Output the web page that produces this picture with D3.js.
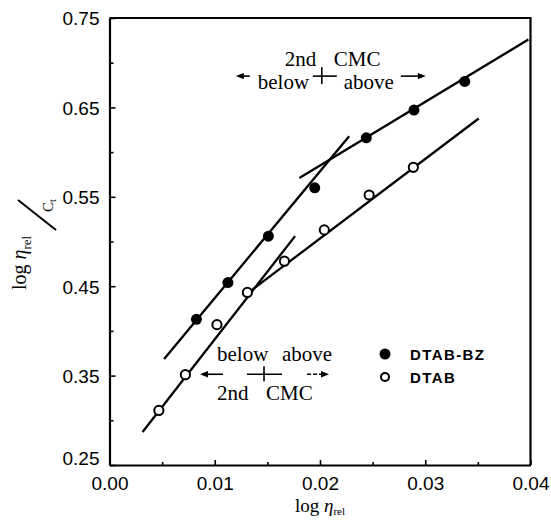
<!DOCTYPE html>
<html>
<head>
<meta charset="utf-8">
<script src="https://cdn.jsdelivr.net/npm/d3@7"></script>
<style>
  body { margin: 0; background: #fff; }
  svg { display: block; }
</style>
</head>
<body>
<div id="chart"><svg width="551" height="520"></svg></div>
<script>
// data
const bzX = [0.00826, 0.01125, 0.01510, 0.01950, 0.02440, 0.02893, 0.03375];
const bzY = [0.413, 0.454, 0.506, 0.560, 0.616, 0.647, 0.679];
const dtabX = [0.00469, 0.00721, 0.01021, 0.01310, 0.01662, 0.02041, 0.02467, 0.02887];
const dtabY = [0.311, 0.351, 0.407, 0.443, 0.478, 0.513, 0.552, 0.583];

// fitted lines, [x1, y1, x2, y2]
const fitLines = [
  [0.00519, 0.3685, 0.02277, 0.6177],
  [0.01804, 0.571, 0.0398, 0.726],
  [0.00314, 0.287, 0.01763, 0.506],
  [0.01283, 0.4395, 0.03508, 0.6376]
];

const xTicks = [0, 0.01, 0.02, 0.03, 0.04];
const xMinor = [0.005, 0.015, 0.025, 0.035];
const yTicks = [0.25, 0.35, 0.45, 0.55, 0.65, 0.75];
const yMinor = [0.30, 0.40, 0.50, 0.60, 0.70];

const legendLabels = ['DTAB-BZ', 'DTAB'];

const svg = d3.select('#chart svg');

const X_SCALE = d3.scaleLinear().domain([0, 0.04]).range([109.5, 530.5]);
const Y_SCALE = d3.scaleLinear().domain([0.25, 0.75]).range([465, 18]);

const SERIF = '"Liberation Serif", "DejaVu Serif", serif';
const SANS = '"Liberation Sans", Arial, sans-serif';

// axes, ticks point inward
const xAxis = svg.append('g').attr('transform', `translate(0,${Y_SCALE(0.25)})`)
  .call(d3.axisBottom(X_SCALE).tickValues(xTicks).tickSizeInner(-5).tickSizeOuter(0)
    .tickPadding(10).tickFormat(d3.format('.2f')));
svg.append('g').attr('transform', `translate(0,${Y_SCALE(0.25)})`)
  .call(d3.axisBottom(X_SCALE).tickValues(xMinor).tickSizeInner(-3).tickSizeOuter(0).tickFormat(''))
  .select('.domain').remove();

const yAxis = svg.append('g').attr('transform', `translate(${X_SCALE(0)},0)`)
  .call(d3.axisLeft(Y_SCALE).tickValues(yTicks).tickSizeInner(-6).tickSizeOuter(0)
    .tickPadding(10).tickFormat(d3.format('.2f')));
svg.append('g').attr('transform', `translate(${X_SCALE(0)},0)`)
  .call(d3.axisLeft(Y_SCALE).tickValues(yMinor).tickSizeInner(-4).tickSizeOuter(0).tickFormat(''))
  .select('.domain').remove();

svg.selectAll('.domain').attr('stroke', '#000').attr('stroke-width', 2.2);
svg.selectAll('.tick line').attr('stroke', '#000').attr('stroke-width', 1.6);
svg.selectAll('.tick text').attr('font-family', SANS).attr('font-size', 19).attr('fill', '#000');
xAxis.selectAll('.tick text').attr('dy', '0.8em');
yAxis.selectAll('.tick text').attr('dy', d => d === 0.25 ? '-0.05em' : '0.36em');

// top and right frame
svg.append('path')
  .attr('d', `M${X_SCALE(0)},${Y_SCALE(0.75)}H${X_SCALE(0.04)}V${Y_SCALE(0.25)}`)
  .attr('fill', 'none').attr('stroke', '#000').attr('stroke-width', 2.2);

// fit lines
svg.selectAll('line.fit')
  .data(fitLines)
  .join('line')
  .attr('class', 'fit')
  .attr('x1', d => X_SCALE(d[0]))
  .attr('y1', d => Y_SCALE(d[1]))
  .attr('x2', d => X_SCALE(d[2]))
  .attr('y2', d => Y_SCALE(d[3]))
  .attr('stroke', '#000')
  .attr('stroke-width', 2.3);

// points
svg.selectAll('circle.bz')
  .data(bzX)
  .join('circle')
  .attr('class', 'bz')
  .attr('cx', d => X_SCALE(d))
  .attr('cy', (d, i) => Y_SCALE(bzY[i]))
  .attr('r', 5.5)
  .attr('fill', '#000');

svg.selectAll('circle.dtab')
  .data(dtabX)
  .join('circle')
  .attr('class', 'dtab')
  .attr('cx', d => X_SCALE(d))
  .attr('cy', (d, i) => Y_SCALE(dtabY[i]))
  .attr('r', 4.6)
  .attr('fill', '#fff')
  .attr('stroke', '#000')
  .attr('stroke-width', 2);

// CMC annotations: cross + arrows, anchored in data space
function cmcMark(cx, cy, flip) {
  const g = svg.append('g').attr('transform', `translate(${X_SCALE(cx)},${Y_SCALE(cy)})`)
    .attr('font-family', SERIF).attr('font-size', 21).attr('fill', '#000');
  const line = (x1, y1, x2, y2) => g.append('line')
    .attr('x1', x1).attr('y1', y1).attr('x2', x2).attr('y2', y2)
    .attr('stroke', '#000').attr('stroke-width', 1.6);
  const head = (x, dir) => g.append('path')
    .attr('d', `M${x},0L${x - dir * 8},-3.2L${x - dir * 8},3.2Z`).attr('fill', '#000');
  if (!flip) {
    line(-9, 0, 15, 0); line(0, -9, 0, 8);
    line(-72, 0, -80, 0); head(-86, -1);
    line(79, 0, 96, 0); head(104, 1);
    g.append('text').attr('x', -37).attr('y', -10).text('2nd');
    g.append('text').attr('x', 12).attr('y', -10).text('CMC');
    g.append('text').attr('x', -64).attr('y', 13).text('below');
    g.append('text').attr('x', 22).attr('y', 13).text('above');
  } else {
    line(-17, 0, 18, 0); line(0, -8, 0, 7);
    line(-41, 0, -57, 0); head(-64, -1);
    line(43, 0, 57, 0).attr('stroke-dasharray', '4,2'); head(65, 1);
    g.append('text').attr('x', -47).attr('y', -13).text('below');
    g.append('text').attr('x', 18).attr('y', -13).text('above');
    g.append('text').attr('x', -47).attr('y', 26).text('2nd');
    g.append('text').attr('x', 2).attr('y', 26).text('CMC');
  }
}
cmcMark(0.02017, 0.685, false);
cmcMark(0.01468, 0.3515, true);

// legend
const legend = svg.append('g').attr('font-family', SANS).attr('font-size', 15)
  .attr('font-weight', 'bold').attr('letter-spacing', 1.4);
legendLabels.forEach((label, i) => {
  const y = 354 + i * 23;
  legend.append('circle').attr('cx', 385).attr('cy', y).attr('r', i === 0 ? 5.5 : 4)
    .attr('fill', i === 0 ? '#000' : '#fff').attr('stroke', '#000').attr('stroke-width', i === 0 ? 0 : 2);
  legend.append('text').attr('x', 410).attr('y', y + 5.5).text(label);
});

// axis titles
const xt = svg.append('text').attr('x', 320).attr('y', 512).attr('text-anchor', 'middle')
  .attr('font-family', SERIF).attr('font-size', 19);
xt.append('tspan').text('log ');
xt.append('tspan').attr('font-style', 'italic').text('η');
xt.append('tspan').attr('font-size', 11).attr('dy', 3).text('rel');

const yt = svg.append('g').attr('transform', 'translate(26,290) rotate(-90)')
  .attr('font-family', SERIF);
const ytt = yt.append('text').attr('x', 0).attr('y', 0).attr('font-size', 20);
ytt.append('tspan').text('log ');
ytt.append('tspan').attr('font-style', 'italic').text('η');
ytt.append('tspan').attr('font-size', 13).attr('dy', 5).text('rel');
yt.append('line').attr('x1', 60).attr('y1', 30).attr('x2', 90).attr('y2', -8)
  .attr('stroke', '#000').attr('stroke-width', 2);
const yc = yt.append('text').attr('x', 78).attr('y', 27).attr('font-size', 15);
yc.append('tspan').text('C');
yc.append('tspan').attr('font-size', 10).attr('dy', 3).text('t');
</script>
</body>
</html>
